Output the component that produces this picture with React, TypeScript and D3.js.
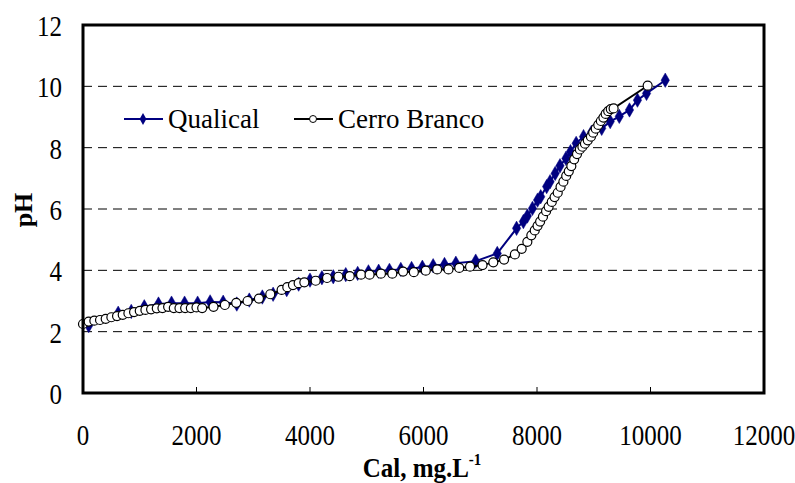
import React from "react";
import * as d3 from "d3";

const qualX = [100, 620, 850, 1080, 1330, 1560, 1790, 2020, 2240, 2470, 2710, 2930, 3160, 3350, 3590, 3800, 4000, 4210, 4410, 4630, 4840, 5030, 5210, 5400, 5600, 5790, 5980, 6170, 6370, 6570, 6920, 7300, 7640, 7760, 7830, 7920, 8010, 8065, 8170, 8230, 8320, 8405, 8510, 8590, 8690, 8820, 8960, 9140, 9290, 9450, 9630, 9770, 9930, 10260];
const qualPH = [2.2, 2.6, 2.66, 2.81, 2.9, 2.93, 2.93, 2.93, 2.97, 2.96, 2.9, 3.03, 3.13, 3.22, 3.37, 3.55, 3.68, 3.76, 3.79, 3.86, 3.9, 3.95, 3.97, 4.0, 4.03, 4.06, 4.1, 4.15, 4.19, 4.23, 4.3, 4.55, 5.37, 5.59, 5.77, 6.02, 6.29, 6.4, 6.73, 6.89, 7.16, 7.41, 7.65, 7.87, 8.14, 8.36, 8.5, 8.63, 8.85, 9.02, 9.23, 9.55, 9.77, 10.2];

const cerroX = [0, 100, 200, 300, 400, 500, 600, 700, 800, 900, 1000, 1100, 1200, 1300, 1400, 1500, 1600, 1700, 1800, 1900, 2000, 2100, 2300, 2500, 2700, 2900, 3100, 3300, 3500, 3600, 3700, 3800, 3900, 4100, 4300, 4500, 4700, 4900, 5050, 5250, 5450, 5640, 5830, 6040, 6240, 6440, 6630, 6820, 7040, 7230, 7420, 7610, 7730, 7830, 7900, 7960, 8010, 8055, 8105, 8160, 8205, 8260, 8310, 8365, 8415, 8465, 8515, 8560, 8605, 8655, 8705, 8755, 8800, 8845, 8895, 8950, 8990, 9035, 9080, 9125, 9170, 9210, 9255, 9300, 9350, 9950];
const cerroPH = [2.25, 2.33, 2.36, 2.38, 2.42, 2.47, 2.51, 2.55, 2.6, 2.64, 2.68, 2.71, 2.73, 2.76, 2.77, 2.81, 2.77, 2.77, 2.77, 2.77, 2.79, 2.77, 2.81, 2.87, 2.94, 3.0, 3.08, 3.22, 3.36, 3.45, 3.52, 3.58, 3.61, 3.66, 3.75, 3.79, 3.81, 3.86, 3.86, 3.89, 3.89, 3.96, 3.94, 3.99, 4.03, 4.03, 4.08, 4.12, 4.17, 4.26, 4.35, 4.52, 4.7, 4.93, 5.14, 5.3, 5.45, 5.59, 5.75, 5.93, 6.07, 6.23, 6.39, 6.53, 6.72, 6.89, 7.08, 7.23, 7.4, 7.62, 7.79, 7.94, 8.03, 8.13, 8.24, 8.36, 8.49, 8.62, 8.74, 8.87, 8.98, 9.1, 9.19, 9.26, 9.28, 10.02];

const xTicks = [0, 2000, 4000, 6000, 8000, 10000, 12000];
const yTicks = [0, 2, 4, 6, 8, 10, 12];
const gridY = [2, 4, 6, 8, 10];

const W = 795, H = 483;
const L = 83, R = 764, T = 25, B = 393;
const FONT = "'Liberation Serif', 'Times New Roman', serif";

export default function App() {
  const x = d3.scaleLinear().domain([0, 12000]).range([L, R]);
  const y = d3.scaleLinear().domain([0, 12]).range([B, T]);
  const qual = qualX.map((v, i) => [v, qualPH[i]] as [number, number]);
  const cerro = cerroX.map((v, i) => [v, cerroPH[i]] as [number, number]);
  const line = d3.line<[number, number]>().x(d => x(d[0])).y(d => y(d[1]));
  const diamond = d3.symbol().type(d3.symbolDiamond).size(60)()!;
  const diamondSmall = d3.symbol().type(d3.symbolDiamond).size(40)()!;
  const blue = "#000080";

  return (
    <svg width={W} height={H} style={{ position: "absolute", left: 0, top: 0, background: "#fff" }} fontFamily={FONT}>
      <rect x={0} y={0} width={W} height={H} fill="#fff" />
      {gridY.map(g => (
        <line key={g} x1={L} x2={R} y1={y(g)} y2={y(g)} stroke="#000" strokeWidth={1} strokeDasharray="9,6" />
      ))}
      {xTicks.slice(1, -1).map(t => (
        <line key={t} x1={x(t)} x2={x(t)} y1={B} y2={B - 6} stroke="#000" strokeWidth={1} />
      ))}
      <path d={line(qual)!} fill="none" stroke={blue} strokeWidth={2} />
      {qual.map((d, i) => (
        <path key={i} d={diamond} transform={`translate(${x(d[0])},${y(d[1])})`} fill={blue} stroke={blue} strokeWidth={0.5} />
      ))}
      <path d={line(cerro)!} fill="none" stroke="#000" strokeWidth={2} />
      {cerro.map((d, i) => (
        <circle key={i} cx={x(d[0])} cy={y(d[1])} r={4.5} fill="#fff" stroke="#000" strokeWidth={1.2} />
      ))}
      <rect x={L} y={T} width={R - L} height={B - T} fill="none" stroke="#000" strokeWidth={3} />
      {yTicks.map(t => (
        <text key={t} transform={`translate(62,${y(t) + 11}) scale(1,1.15)`} textAnchor="end" fontSize={25}>{t}</text>
      ))}
      {xTicks.map(t => (
        <text key={t} transform={`translate(${x(t)},445) scale(1,1.15)`} textAnchor="middle" fontSize={25}>{t}</text>
      ))}
      <text transform="translate(422,477) scale(1,1.1)" textAnchor="middle" fontSize={25} fontWeight="bold">
        Cal, mg.L<tspan dy={-11} fontSize={15}>-1</tspan>
      </text>
      <text transform="translate(32,210) rotate(-90)" textAnchor="middle" fontSize={26} fontWeight="bold">pH</text>
      <line x1={124} x2={163} y1={119} y2={119} stroke={blue} strokeWidth={2} />
      <path d={diamondSmall} transform="translate(143,119)" fill={blue} />
      <text x={168} y={128} fontSize={27}>Qualical</text>
      <line x1={294} x2={333} y1={119} y2={119} stroke="#000" strokeWidth={2} />
      <circle cx={313} cy={119} r={3.5} fill="#fff" stroke="#000" strokeWidth={1} />
      <text x={338} y={128} fontSize={27}>Cerro Branco</text>
    </svg>
  );
}
